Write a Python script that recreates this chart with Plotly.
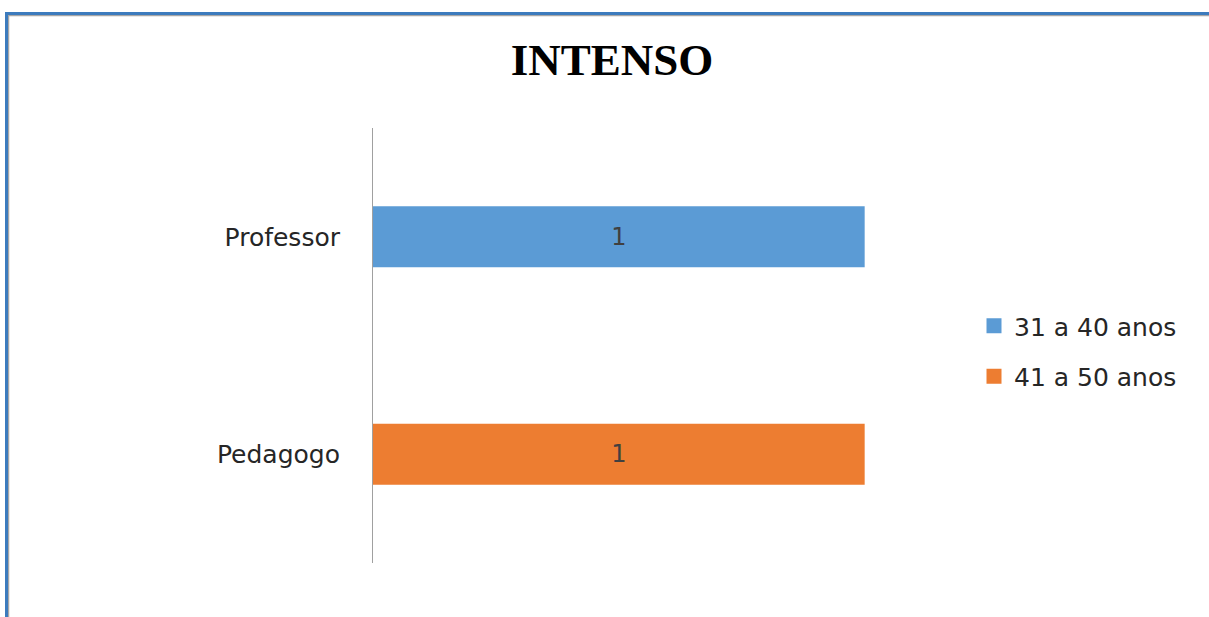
import plotly.graph_objects as go

# Chart data
categories = ["Pedagogo", "Professor"]
series_names = ["31 a 40 anos", "41 a 50 anos"]
series_categories = ["Professor", "Pedagogo"]
series_values = [1, 1]
series_colors = ["#5b9bd5", "#ed7d31"]

W, H = 1209, 617
L, R, T, B = 373, 246, 128, 54
PW, PH = W - L - R, H - T - B

LABEL_FONT = "DejaVu Sans"


def px_x(px):
    return (px - L) / PW


def px_y(py):
    return (H - B - py) / PH


fig = go.Figure()
for name, cat, val, col in zip(series_names, series_categories, series_values, series_colors):
    fig.add_trace(
        go.Bar(
            y=[cat],
            x=[val],
            orientation="h",
            name=name,
            legendgroup=name,
            showlegend=False,
            marker=dict(color=col, line=dict(width=0)),
            width=0.28,
            text=[str(val)],
            textposition="inside",
            insidetextanchor="middle",
            textfont=dict(family=LABEL_FONT, size=24, color="#404040"),
        )
    )
    # legend key: a larger square swatch
    fig.add_trace(
        go.Scatter(
            x=[None],
            y=[None],
            mode="markers",
            name=name,
            legendgroup=name,
            marker=dict(symbol="square", size=15, color=col),
            showlegend=True,
        )
    )

# Outer frame of the chart
frame_blue = "#3c7bbd"
frame_gray = "#a6a6a6"
shapes = [
    dict(type="line", xref="paper", yref="paper",
         x0=px_x(6), x1=px_x(1209), y0=px_y(15.5), y1=px_y(15.5),
         line=dict(color=frame_gray, width=1.5)),
    dict(type="line", xref="paper", yref="paper",
         x0=px_x(8.5), x1=px_x(8.5), y0=px_y(15), y1=px_y(617),
         line=dict(color=frame_gray, width=1.5)),
    dict(type="line", xref="paper", yref="paper",
         x0=px_x(5.5), x1=px_x(1209), y0=px_y(13.5), y1=px_y(13.5),
         line=dict(color=frame_blue, width=3)),
    dict(type="line", xref="paper", yref="paper",
         x0=px_x(6.5), x1=px_x(6.5), y0=px_y(12), y1=px_y(617),
         line=dict(color=frame_blue, width=3)),
]

fig.update_layout(
    width=W,
    height=H,
    margin=dict(l=L, r=R, t=T, b=B),
    paper_bgcolor="white",
    plot_bgcolor="white",
    barmode="overlay",
    title=dict(
        text="<b>INTENSO</b>",
        x=612 / W,
        xanchor="center",
        y=1 - 59 / H,
        yanchor="middle",
        font=dict(family="Liberation Serif", size=45, color="#000000"),
    ),
    xaxis=dict(
        range=[0, 1.2],
        visible=False,
        fixedrange=True,
    ),
    yaxis=dict(
        type="category",
        categoryorder="array",
        categoryarray=categories,
        showline=True,
        linecolor="#a0a0a0",
        linewidth=1,
        showgrid=False,
        ticks="",
        ticklabelstandoff=27,
        tickfont=dict(family=LABEL_FONT, size=25, color="#262626"),
        fixedrange=True,
    ),
    legend=dict(
        x=px_x(974),
        xanchor="left",
        y=px_y(303),
        yanchor="top",
        traceorder="grouped",
        tracegroupgap=15,
        font=dict(family=LABEL_FONT, size=25, color="#262626"),
        itemwidth=30,
        bgcolor="rgba(0,0,0,0)",
    ),
    shapes=shapes,
)

fig.write_html("out.html")
